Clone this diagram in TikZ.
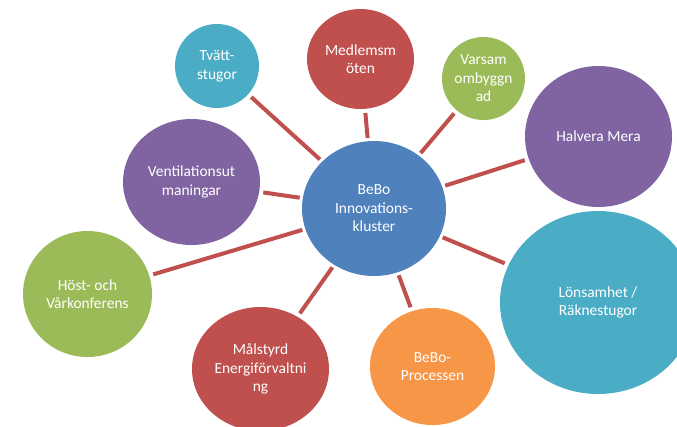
\documentclass[tikz,border=0pt]{standalone}
\usepackage{fontspec}
\setmainfont{Carlito}
\usetikzlibrary{shapes.geometric}
\definecolor{hubblue}{HTML}{4F81BD}
\definecolor{bubred}{HTML}{C0504D}
\definecolor{bubgreen}{HTML}{9BBB59}
\definecolor{bubpurple}{HTML}{8064A2}
\definecolor{bubaqua}{HTML}{4BACC6}
\definecolor{buborange}{HTML}{F79646}
\begin{document}
\begin{tikzpicture}[x=1bp, y=-1bp,
		bubble/.style={ellipse, inner sep=0pt, text=white, align=center,
			font=\fontsize{15.5}{18.5}\selectfont},
		spoke/.style={draw=bubred, line width=4bp, shorten <=4bp, shorten >=3bp}]
	\useasboundingbox (0,0) rectangle (677,426);
	% centre
	\node[bubble, fill=hubblue, minimum width=144bp, minimum height=135bp] (Hub) at (374,208.5) {BeBo\\Innovations-\\kluster};
	% outer ring
	\node[bubble, fill=bubaqua, minimum width=84bp, minimum height=84bp] (Tvatt) at (217,66) {Tvätt-\\stugor};
	\node[bubble, fill=bubred, minimum width=107bp, minimum height=100bp] (Medlem) at (360.5,59) {Medlemsm\\öten};
	\node[bubble, fill=bubgreen, minimum width=83bp, minimum height=83bp] (Varsam) at (483.5,78.5) {Varsam\\ombyggn\\ad};
	\node[bubble, fill=bubpurple, minimum width=147bp, minimum height=141bp] (Halvera) at (598.5,136.5) {Halvera Mera};
	\node[bubble, fill=bubpurple, minimum width=137bp, minimum height=126bp] (Vent) at (191.5,182) {Ventilationsut\\maningar};
	\node[bubble, fill=bubgreen, minimum width=129bp, minimum height=126bp] (Host) at (87.5,294) {Höst- och\\Vårkonferens};
	\node[bubble, fill=bubaqua, minimum width=196bp, minimum height=183bp] (Lon) at (598,302.5) {Lönsamhet /\\Räknestugor};
	\node[bubble, fill=bubred, minimum width=137bp, minimum height=124bp] (Malstyrd) at (260.5,369) {Målstyrd\\Energiförvaltni\\ng};
	\node[bubble, fill=buborange, minimum width=125bp, minimum height=117bp] (Process) at (432.5,366.5) {BeBo-\\Processen};
	% spokes
	\draw[spoke] (Tvatt) -- (Hub);
	\draw[spoke] (Medlem) -- (Hub);
	\draw[spoke] (Varsam) -- (Hub);
	\draw[spoke] (Halvera) -- (Hub);
	\draw[spoke] (Vent) -- (Hub);
	\draw[spoke] (Host) -- (Hub);
	\draw[spoke] (Lon) -- (Hub);
	\draw[spoke] (Malstyrd) -- (Hub);
	\draw[spoke] (Process) -- (Hub);
\end{tikzpicture}
\end{document}
